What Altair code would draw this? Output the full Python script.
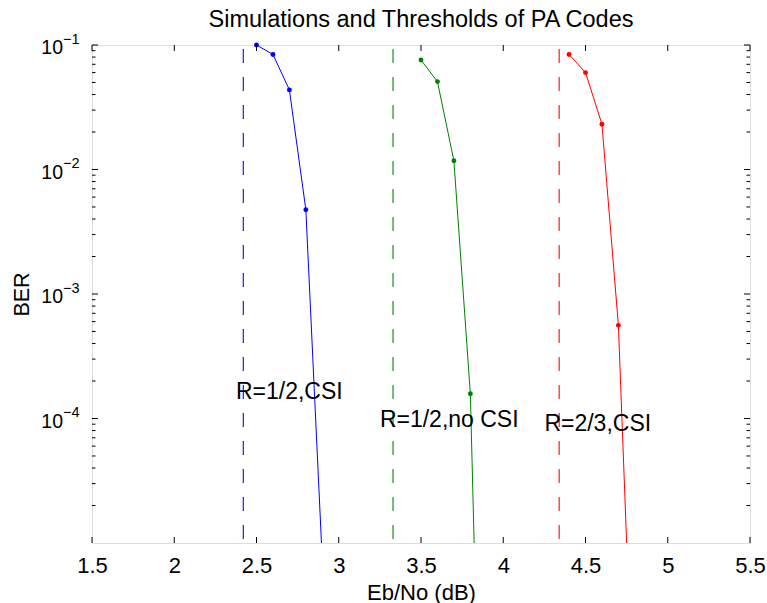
import altair as alt
import pandas as pd

FONT = "Liberation Sans, Arial, Helvetica, sans-serif"

# ---- data ----
series_names = ["R=1/2,CSI", "R=1/2,no CSI", "R=2/3,CSI"]
series_colors = ["#0000ff", "#008000", "#ff0000"]

ebno_blue = [2.5, 2.6, 2.7, 2.8, 2.9]
ber_blue = [0.1, 0.084, 0.0436, 0.00475, 7.2e-6]

ebno_green = [3.5, 3.6, 3.7, 3.8, 3.9]
ber_green = [0.0758, 0.0508, 0.01175, 1.58e-4, 1e-9]

ebno_red = [4.4, 4.5, 4.6, 4.7, 4.8]
ber_red = [0.084, 0.060, 0.0231, 5.6e-4, 1.8e-7]

thresholds = [2.42, 3.33, 4.34]

label_x = [2.375, 3.25, 4.25]
label_y = [1.64e-4, 9.66e-5, 8.97e-5]

x_major = [1.5, 2, 2.5, 3, 3.5, 4, 4.5, 5, 5.5]
y_major = [1e-1, 1e-2, 1e-3, 1e-4]
y_exp = ["\u22121", "\u22122", "\u22123", "\u22124"]
y_minor_mult = [2, 3, 4, 5, 6, 7, 8, 9]
y_minor_dec = [1e-5, 1e-4, 1e-3, 1e-2]

# ---- tables ----
curves = pd.concat([
    pd.DataFrame({"series": series_names[0], "ebno": ebno_blue, "ber": ber_blue}),
    pd.DataFrame({"series": series_names[1], "ebno": ebno_green, "ber": ber_green}),
    pd.DataFrame({"series": series_names[2], "ebno": ebno_red, "ber": ber_red}),
], ignore_index=True)
thr = pd.DataFrame({"series": series_names, "x": thresholds})
labels = pd.DataFrame({"series": series_names, "x": label_x, "y": label_y})
xt = pd.DataFrame({"v": x_major})
yt = pd.DataFrame({"v": y_major, "exp": y_exp})
ym = pd.DataFrame({"v": [m * d for d in y_minor_dec for m in y_minor_mult]})

W, H = 658, 498

xs = alt.Scale(domain=[1.5, 5.5], nice=False, zero=False)
ys = alt.Scale(type="log", domain=[1e-5, 1e-1], nice=False)
cs = alt.Scale(domain=series_names, range=series_colors)

x_axis = alt.Axis(title="Eb/No (dB)", values=x_major, format="~g", ticks=False,
                  domain=False, grid=False, labelFontSize=22, labelPadding=12,
                  labelFlush=False, labelOverlap=False, labelColor="black",
                  labelFont=FONT, titleFont=FONT, titleFontSize=22,
                  titleFontWeight="normal", titleColor="black",
                  titleY=56, titleBaseline="alphabetic")
y_axis = alt.Axis(title="BER", labels=False, ticks=False, domain=False, grid=False,
                  titleFont=FONT, titleFontSize=21.5, titleFontWeight="normal",
                  titleColor="black", titleX=-64, titleY=H / 2,
                  titleBaseline="alphabetic", titleAngle=270)

X = lambda f: alt.X(f, scale=xs, axis=x_axis)
Y = lambda f: alt.Y(f, scale=ys, axis=y_axis)

lines = alt.Chart(curves).mark_line(strokeWidth=1, clip=True).encode(
    x=X("ebno:Q"), y=Y("ber:Q"),
    color=alt.Color("series:N", scale=cs, legend=None))
points = alt.Chart(curves).transform_filter(alt.datum.ber >= 1e-5).mark_point(
    filled=True, size=24, opacity=1).encode(
    x=X("ebno:Q"), y=Y("ber:Q"),
    color=alt.Color("series:N", scale=cs, legend=None))
dashes = alt.Chart(thr).mark_rule(strokeWidth=1.2, strokeDash=[14, 14], strokeDashOffset=-4,
                                  opacity=0.9).encode(
    x=X("x:Q"), color=alt.Color("series:N", scale=cs, legend=None))
texts = alt.Chart(labels).mark_text(align="left", baseline="middle", fontSize=23,
                                    font=FONT, color="black").encode(
    x=X("x:Q"), y=Y("y:Q"), text="series:N")

xt_bot = alt.Chart(xt).mark_rule(color="black").encode(
    x=X("v:Q"), y=alt.value(H), y2=alt.value(H - 6))
xt_top = alt.Chart(xt).mark_rule(color="black").encode(
    x=X("v:Q"), y=alt.value(0), y2=alt.value(6))
yt_left = alt.Chart(yt).mark_rule(color="black").encode(
    y=Y("v:Q"), x=alt.value(0), x2=alt.value(6))
yt_right = alt.Chart(yt).mark_rule(color="black").encode(
    y=Y("v:Q"), x=alt.value(W), x2=alt.value(W - 6))
ym_left = alt.Chart(ym).mark_rule(color="black").encode(
    y=Y("v:Q"), x=alt.value(0), x2=alt.value(3.5))
ym_right = alt.Chart(ym).mark_rule(color="black").encode(
    y=Y("v:Q"), x=alt.value(W), x2=alt.value(W - 3.5))

ten = alt.Chart(yt).mark_text(align="right", baseline="alphabetic", fontSize=19.5,
                              font=FONT, color="black", dy=9, text="10").encode(
    y=Y("v:Q"), x=alt.value(-29))
exps = alt.Chart(yt).mark_text(align="left", baseline="alphabetic", fontSize=14.5,
                               font=FONT, color="black", dy=-1.5).encode(
    y=Y("v:Q"), x=alt.value(-29), text="exp:N")

chart = alt.layer(
    dashes, lines, points, texts,
    xt_bot, xt_top, yt_left, yt_right, ym_left, ym_right, ten, exps
).properties(
    width=W, height=H,
    title=alt.TitleParams("Simulations and Thresholds of PA Codes", fontSize=23.5,
                          font=FONT, fontWeight="normal", color="black",
                          anchor="middle", baseline="alphabetic", offset=-19),
    autosize=alt.AutoSizeParams(type="none"),
    padding={"left": 92, "top": 45, "right": 17, "bottom": 60},
).configure_view(stroke="black", strokeWidth=1).configure(background="white")

chart.save("out.html", embed_options={"renderer": "svg", "actions": False})
